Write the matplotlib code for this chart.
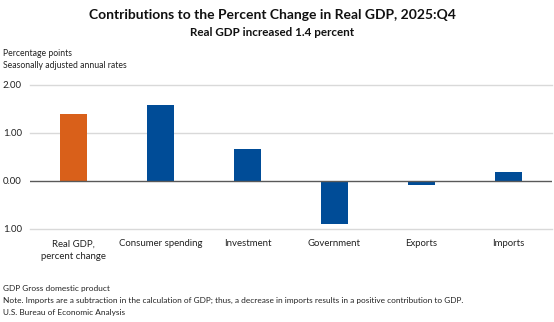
import numpy as np
import matplotlib.pyplot as plt

# Contributions to percent change in real GDP, percentage points
categories = ['Real GDP,\npercent change', 'Consumer spending', 'Investment',
              'Government', 'Exports', 'Imports']
values = [1.40, 1.58, 0.66, -0.89, -0.09, 0.18]
bar_colors = ['#D9601A', '#004C97', '#004C97', '#004C97', '#004C97', '#004C97']
y_ticks = [2.0, 1.0, 0.0, -1.0]
y_tick_labels = ['2.00', '1.00', '0.00', '1.00']

plt.rcParams['font.family'] = ['Lato', 'DejaVu Sans']

fig = plt.figure(figsize=(5.54, 3.22), dpi=100)
ax = fig.add_axes([30 / 554, 93 / 322, 522 / 554, 144 / 322])

x = np.arange(len(categories))
ax.bar(x, values, width=0.32, color=bar_colors, zorder=3)

ax.set_xlim(-0.5, len(categories) - 0.5)
ax.set_ylim(-1.0, 2.0)
ax.set_yticks(y_ticks)
ax.set_yticklabels(y_tick_labels)
ax.set_xticks(x)
ax.set_xticklabels(categories, fontsize=6.9, color='#222222', linespacing=1.45)

for t in ax.get_yticklabels():
    t.set_horizontalalignment('left')
ax.tick_params(axis='y', length=0, pad=19.5, labelsize=7, labelcolor='#222222')
ax.tick_params(axis='x', length=0, pad=7.5)

# light grid with a darker zero line
for yv in y_ticks:
    if yv == 0:
        ax.axhline(yv, color='#595959', lw=1.0, zorder=4)
    else:
        ax.axhline(yv, color='#D9D9D9', lw=1.0, zorder=1, clip_on=False)

for s in ax.spines.values():
    s.set_visible(False)

fig.text(0.491, 1 - 15 / 322, 'Contributions to the Percent Change in Real GDP, 2025:Q4',
         ha='center', va='center', fontsize=10, fontweight='bold', color='#111111')
fig.text(0.491, 1 - 33 / 322, 'Real GDP increased 1.4 percent',
         ha='center', va='center', fontsize=8.4, fontweight='bold', color='#111111')
fig.text(3 / 554, 1 - 53 / 322, 'Percentage points',
         ha='left', va='center', fontsize=6.2, color='#222222')
fig.text(3 / 554, 1 - 65 / 322, 'Seasonally adjusted annual rates',
         ha='left', va='center', fontsize=6.2, color='#222222')

notes = ['GDP Gross domestic product',
         'Note. Imports are a subtraction in the calculation of GDP; thus, a decrease in imports '
         'results in a positive contribution to GDP.',
         'U.S. Bureau of Economic Analysis']
for i, line in enumerate(notes):
    fig.text(3 / 554, 1 - (289 + i * 11.5) / 322, line,
             ha='left', va='center', fontsize=5.95, color='#222222')

fig.savefig('out.png', dpi=100)
